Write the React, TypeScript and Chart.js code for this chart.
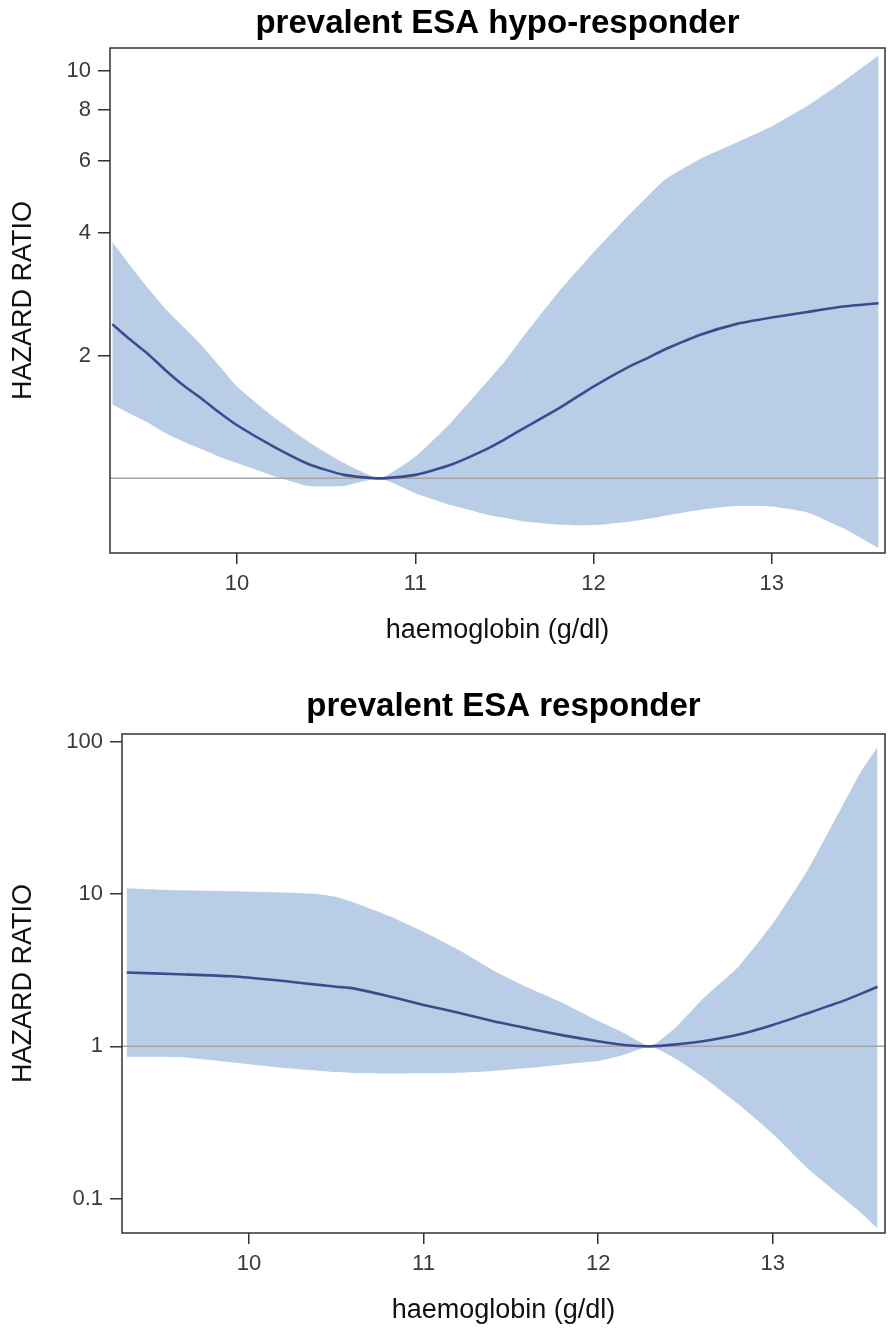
import React, { useEffect, useRef } from 'react';
import { Chart, registerables } from 'chart.js';

Chart.register(...registerables);

const FONT = "'Liberation Sans', Arial, Helvetica, sans-serif";
const BAND = 'rgb(185,206,230)';
const LINE = 'rgb(62,74,142)';
const REF = '#A6A6A6';
const AXIS = '#333333';
const TICK_TEXT = '#3a3a3a';

// ---- prevalent ESA hypo-responder ----
const HYPO_TITLE = 'prevalent ESA hypo-responder';
const HYPO_HGB = [9.3, 9.4, 9.5, 9.6, 9.7, 9.8, 9.9, 10.0, 10.2, 10.4, 10.6, 10.8, 11.0, 11.2, 11.4, 11.5, 11.6, 11.8, 12.0, 12.2, 12.3, 12.4, 12.6, 12.8, 13.0, 13.2, 13.4, 13.6];
const HYPO_HR = [2.39, 2.19, 2.02, 1.84, 1.69, 1.57, 1.45, 1.35, 1.2, 1.085, 1.02, 1.0, 1.02, 1.08, 1.18, 1.245, 1.32, 1.48, 1.68, 1.88, 1.97, 2.07, 2.25, 2.39, 2.48, 2.56, 2.64, 2.69];
const HYPO_UPPER = [3.8, 3.33, 2.93, 2.6, 2.35, 2.12, 1.89, 1.68, 1.42, 1.23, 1.09, 1.0, 1.13, 1.37, 1.72, 1.93, 2.21, 2.85, 3.58, 4.43, 4.9, 5.4, 6.08, 6.66, 7.3, 8.2, 9.4, 10.9];
const HYPO_LOWER = [1.52, 1.44, 1.37, 1.29, 1.23, 1.18, 1.13, 1.09, 1.015, 0.958, 0.958, 1.0, 0.92, 0.86, 0.815, 0.8, 0.785, 0.77, 0.768, 0.783, 0.795, 0.81, 0.838, 0.855, 0.853, 0.825, 0.755, 0.674];
const HYPO_Y_TICKS = [2, 4, 6, 8, 10];

// ---- prevalent ESA responder ----
const RESP_TITLE = 'prevalent ESA responder';
const RESP_HGB = [9.3, 9.6, 9.9, 10.2, 10.4, 10.5, 10.6, 10.8, 11.0, 11.2, 11.4, 11.6, 11.8, 12.0, 12.15, 12.3, 12.45, 12.6, 12.8, 13.0, 13.2, 13.4, 13.5, 13.6];
const RESP_HR = [3.05, 2.97, 2.88, 2.68, 2.53, 2.46, 2.4, 2.13, 1.87, 1.66, 1.46, 1.31, 1.18, 1.08, 1.02, 1.0, 1.03, 1.08, 1.19, 1.38, 1.65, 1.98, 2.2, 2.46];
const RESP_UPPER = [10.9, 10.55, 10.4, 10.2, 9.95, 9.55, 8.8, 7.2, 5.65, 4.3, 3.15, 2.42, 1.92, 1.47, 1.22, 1.0, 1.35, 2.05, 3.3, 6.4, 14.3, 38, 62, 92];
const RESP_LOWER = [0.855, 0.85, 0.785, 0.72, 0.69, 0.678, 0.668, 0.663, 0.665, 0.672, 0.69, 0.72, 0.76, 0.8, 0.88, 1.0, 0.82, 0.63, 0.42, 0.267, 0.158, 0.102, 0.082, 0.064];
const RESP_Y_TICKS = [0.1, 1, 10, 100];

const X_TICKS = [10, 11, 12, 13];
const X_TITLE = 'haemoglobin (g/dl)';
const Y_TITLE = 'HAZARD RATIO';

const framePlugin = {
  id: 'frame',
  afterDatasetsDraw(chart: any) {
    const { ctx, chartArea } = chart;
    const { left, top, right, bottom } = chartArea;
    ctx.save();
    ctx.strokeStyle = AXIS;
    ctx.lineWidth = 1.5;
    ctx.strokeRect(left, top, right - left, bottom - top);
    ctx.restore();
  },
};

type Spec = {
  title: string;
  xs: number[];
  hr: number[];
  upper: number[];
  lower: number[];
  yTicks: number[];
  xMin: number;
  xMax: number;
  yMin: number;
  yMax: number;
  yAxisWidth: number;
  xAxisHeight: number;
  titlePadTop: number;
  titlePadBottom: number;
  xTitlePadBottom: number;
  yTitlePad: number;
};

function buildConfig(s: Spec): any {
  const pts = (vals: number[]) => s.xs.map((x, i) => ({ x, y: vals[i] }));
  return {
    type: 'line',
    data: {
      datasets: [
        {
          label: 'hazard ratio',
          data: pts(s.hr),
          borderColor: LINE,
          borderWidth: 2.6,
          pointRadius: 0,
          tension: 0.2,
          fill: false,
          order: 0,
        },
        {
          label: 'reference',
          data: [
            { x: s.xMin, y: 1 },
            { x: s.xMax, y: 1 },
          ],
          borderColor: REF,
          borderWidth: 1.5,
          pointRadius: 0,
          fill: false,
          order: 1,
        },
        {
          label: 'upper 95% CI',
          data: pts(s.upper),
          borderColor: 'rgba(0,0,0,0)',
          borderWidth: 0,
          backgroundColor: BAND,
          pointRadius: 0,
          tension: 0.15,
          fill: '+1',
          order: 2,
        },
        {
          label: 'lower 95% CI',
          data: pts(s.lower),
          borderColor: 'rgba(0,0,0,0)',
          borderWidth: 0,
          pointRadius: 0,
          tension: 0.15,
          fill: false,
          order: 3,
        },
      ],
    },
    options: {
      responsive: false,
      animation: false,
      events: [],
      layout: { padding: { left: 0, right: 5, top: 0, bottom: 0 } },
      plugins: {
        legend: { display: false },
        tooltip: { enabled: false },
        title: {
          display: true,
          text: s.title,
          fullSize: false,
          color: '#000',
          font: { family: FONT, size: 33, weight: 'bold', lineHeight: 1 },
          padding: { top: s.titlePadTop, bottom: s.titlePadBottom },
        },
      },
      scales: {
        x: {
          type: 'linear',
          min: s.xMin,
          max: s.xMax,
          afterBuildTicks: (sc: any) => {
            sc.ticks = X_TICKS.map((v) => ({ value: v }));
          },
          afterFit: (sc: any) => {
            sc.height = s.xAxisHeight;
          },
          ticks: {
            color: TICK_TEXT,
            font: { family: FONT, size: 22 },
            padding: 7,
            maxRotation: 0,
            callback: (v: any) => String(v),
          },
          grid: { drawOnChartArea: false, tickLength: 11, color: AXIS, lineWidth: 1.5 },
          border: { display: false },
          title: {
            display: true,
            text: X_TITLE,
            color: '#111',
            font: { family: FONT, size: 27 },
            padding: { top: 0, bottom: s.xTitlePadBottom },
          },
        },
        y: {
          type: 'logarithmic',
          min: s.yMin,
          max: s.yMax,
          afterBuildTicks: (sc: any) => {
            sc.ticks = s.yTicks.map((v) => ({ value: v }));
          },
          afterFit: (sc: any) => {
            sc.width = s.yAxisWidth;
          },
          ticks: {
            color: TICK_TEXT,
            font: { family: FONT, size: 22 },
            padding: 7,
            callback: (v: any) => String(v),
          },
          grid: { drawOnChartArea: false, tickLength: 12, color: AXIS, lineWidth: 1.5 },
          border: { display: false },
          title: {
            display: true,
            text: Y_TITLE,
            color: '#111',
            font: { family: FONT, size: 27 },
            padding: { top: s.yTitlePad, bottom: 0 },
          },
        },
      },
    },
    plugins: [framePlugin],
  };
}

const HYPO_SPEC: Spec = {
  title: HYPO_TITLE,
  xs: HYPO_HGB,
  hr: HYPO_HR,
  upper: HYPO_UPPER,
  lower: HYPO_LOWER,
  yTicks: HYPO_Y_TICKS,
  xMin: 9.287,
  xMax: 13.636,
  yMin: 0.656,
  yMax: 11.37,
  yAxisWidth: 110,
  xAxisHeight: 112,
  titlePadTop: 7,
  titlePadBottom: 8,
  xTitlePadBottom: 18,
  yTitlePad: 7,
};

const RESP_SPEC: Spec = {
  title: RESP_TITLE,
  xs: RESP_HGB,
  hr: RESP_HR,
  upper: RESP_UPPER,
  lower: RESP_LOWER,
  yTicks: RESP_Y_TICKS,
  xMin: 9.273,
  xMax: 13.643,
  yMin: 0.0596,
  yMax: 112,
  yAxisWidth: 122,
  xAxisHeight: 98,
  titlePadTop: 25,
  titlePadBottom: 11,
  xTitlePadBottom: 4,
  yTitlePad: 7,
};

function HRChart({ spec, height }: { spec: Spec; height: number }) {
  const ref = useRef<HTMLCanvasElement | null>(null);
  useEffect(() => {
    if (!ref.current) return;
    const chart = new Chart(ref.current, buildConfig(spec));
    return () => chart.destroy();
  }, [spec]);
  return <canvas ref={ref} width={890} height={height} style={{ display: 'block', width: 890, height }} />;
}

export default function App() {
  return (
    <div style={{ position: 'absolute', left: 0, top: 0, width: 890, height: 1331, background: '#fff' }}>
      <HRChart spec={HYPO_SPEC} height={665} />
      <HRChart spec={RESP_SPEC} height={666} />
    </div>
  );
}
